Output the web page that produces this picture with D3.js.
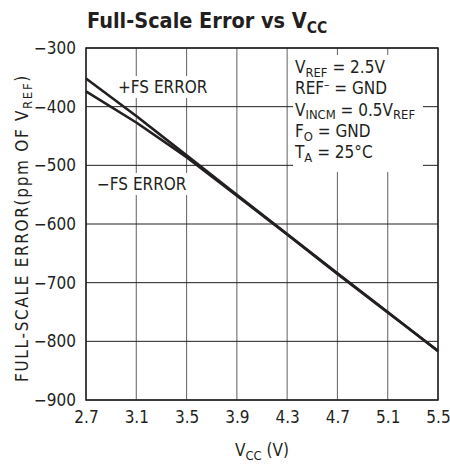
<!DOCTYPE html>
<html><head><meta charset="utf-8">
<script src="https://cdn.jsdelivr.net/npm/d3@7/dist/d3.min.js"></script>
<style>
html,body{margin:0;padding:0;background:#fff;}
svg text{font-family:"Liberation Sans Narrow","DejaVu Sans Condensed","Liberation Sans",sans-serif;fill:#231f20;}
</style></head>
<body>
<svg id="c" width="450" height="464"></svg>
<script>
const vcc = [2.7, 3.1, 3.5, 3.9, 4.3, 4.7, 5.1, 5.5];
const plusFS = [-352, -416, -483, -550, -617, -684, -750, -817];
const minusFS = [-374, -427, -486, -552, -618, -685, -751, -816];
const xTicks = [2.7, 3.1, 3.5, 3.9, 4.3, 4.7, 5.1, 5.5];
const yTicks = [-300, -400, -500, -600, -700, -800, -900];

const svg = d3.select("#c");
const L = 86, R = 438, T = 48, B = 400;
const x = d3.scaleLinear().domain([2.7, 5.5]).range([L, R]);
const y = d3.scaleLinear().domain([-900, -300]).range([B, T]);

// grid
const g = svg.append("g");
g.selectAll("line.v").data(xTicks).join("line")
  .attr("x1", d => x(d)).attr("x2", d => x(d)).attr("y1", T).attr("y2", B)
  .attr("stroke", "#6d6e71").attr("stroke-width", 1.1);
g.selectAll("line.h").data(yTicks).join("line")
  .attr("x1", L).attr("x2", R).attr("y1", d => y(d)).attr("y2", d => y(d))
  .attr("stroke", "#231f20").attr("stroke-width", 1);

// axes labels via d3 axes
const xAxis = svg.append("g").attr("transform", `translate(0,${B})`)
  .call(d3.axisBottom(x).tickValues(xTicks).tickSize(0).tickPadding(11).tickFormat(d3.format(".1f")));
xAxis.select(".domain").remove();
xAxis.selectAll("text").attr("font-size", 17).attr("font-family", null).attr("fill", "#231f20");
const yAxis = svg.append("g").attr("transform", `translate(${L},0)`)
  .call(d3.axisLeft(y).tickValues(yTicks).tickSize(0).tickPadding(10).tickFormat(d => "\u2212" + Math.abs(d)));
yAxis.select(".domain").remove();
yAxis.selectAll("text").attr("font-size", 17).attr("font-family", null).attr("fill", "#231f20");

function sub(t, parts, fs) {
  parts.forEach(p => {
    if (p.s) t.append("tspan").text(p.s).attr("font-size", fs * 0.76).attr("dy", fs * 0.22);
    else if (p.sup) t.append("tspan").text(p.sup).attr("font-size", fs * 0.7).attr("dy", -fs * 0.3);
    else t.append("tspan").text(p.t).attr("dy", p.dy || 0);
  });
}

// annotation box
svg.append("rect").attr("x", 293).attr("y", 55).attr("width", 130).attr("height", 117).attr("fill", "#fff");
const fs = 17;
const ann = [
  [{t:"V"},{s:"REF"},{t:" = 2.5V", dy: -fs*0.22}],
  [{t:"REF"},{sup:"\u2013"},{t:" = GND", dy: fs*0.3}],
  [{t:"V"},{s:"INCM"},{t:" = 0.5V", dy: -fs*0.22},{s:"REF"}],
  [{t:"F"},{s:"O"},{t:" = GND", dy: -fs*0.22}],
  [{t:"T"},{s:"A"},{t:" = 25\u00B0C", dy: -fs*0.22}]
];
ann.forEach((parts, i) => {
  const t = svg.append("text").attr("x", 295).attr("y", 73 + i * 21.3).attr("font-size", fs);
  sub(t, parts, fs);
});

// lines
const line = d3.line().x((d, i) => x(vcc[i])).y(d => y(d));
[minusFS, plusFS].forEach(s => {
  svg.append("path").attr("d", line(s)).attr("fill", "none")
    .attr("stroke", "#231f20").attr("stroke-width", 2.6).attr("stroke-linejoin", "round");
});

// series labels with white backgrounds
function label(txt, lx, ly) {
  const t = svg.append("text").attr("x", lx).attr("y", ly).attr("font-size", 17).text(txt);
  const bb = t.node().getBBox();
  svg.insert("rect", () => t.node()).attr("x", bb.x - 2).attr("y", bb.y - 1)
    .attr("width", bb.width + 4).attr("height", bb.height + 2).attr("fill", "#fff");
}
label("+FS ERROR", 118, 93);
label("\u2212FS ERROR", 97, 190);

// frame
svg.append("rect").attr("x", L).attr("y", T).attr("width", R - L).attr("height", B - T)
  .attr("fill", "none").attr("stroke", "#231f20").attr("stroke-width", 1.5);

// title
const title = svg.append("text").attr("x", 87).attr("y", 28).attr("font-size", 21.5).attr("font-weight", "bold");
title.append("tspan").text("Full-Scale Error vs V");
title.append("tspan").text("CC").attr("font-size", 15.5).attr("dy", 5);

// x title
const xt = svg.append("text").attr("x", 262).attr("y", 456).attr("font-size", 17).attr("text-anchor", "middle");
xt.append("tspan").text("V");
xt.append("tspan").text("CC").attr("font-size", 13).attr("dy", 4);
xt.append("tspan").text(" (V)").attr("dy", -4);

// y title
const yt = svg.append("text").attr("transform", "translate(28,228) rotate(-90)").attr("font-size", 17).attr("text-anchor", "middle");
yt.append("tspan").text("FULL-SCALE ERROR(ppm OF V");
yt.append("tspan").text("REF").attr("font-size", 13).attr("dy", 4);
yt.append("tspan").text(")").attr("dy", -4);
const ylen = yt.node().getComputedTextLength();
const target = 308, nch = 29;
if (ylen < target) yt.attr("letter-spacing", (target - ylen) / nch);
</script>
</body></html>
